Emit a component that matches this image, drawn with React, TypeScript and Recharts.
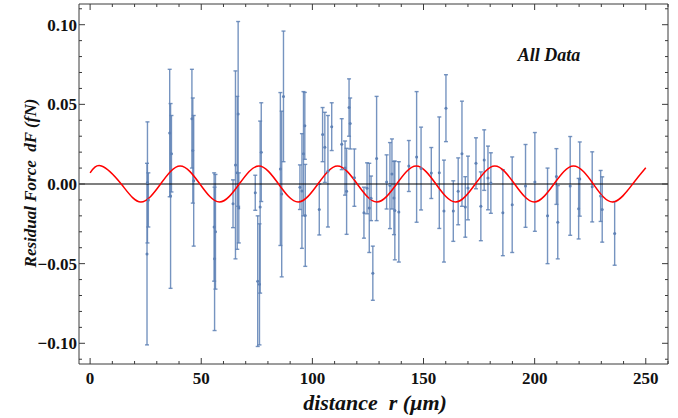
import {
  ComposedChart,
  Scatter,
  Line,
  XAxis,
  YAxis,
  ErrorBar,
  ReferenceLine,
  Customized,
} from "recharts";

// residual force measurements (distance in µm, force in fN)
const distance = [
  25.8, 25.6, 26.2, 35.8, 36.2, 36.6, 45.8, 46.2, 46.6, 55.8, 56.4, 56.0,
  64.3, 65.4, 66.6, 66.2, 66.9, 74.3, 75.4, 76.2, 77.0, 76.5, 87.0, 85.6,
  86.2, 94.4, 95.3, 96.0, 96.6, 96.8, 103.1, 104.6, 105.6, 107.0, 108.7,
  113.2, 114.7, 115.4, 116.5, 117.0, 118.9, 123.2, 124.6, 125.6, 126.4,
  127.2, 128.9, 133.4, 134.9, 135.8, 136.7, 137.1, 138.9, 143.4, 146.9,
  148.9, 153.5, 157.1, 159.2, 160.1, 163.4, 165.6, 167.3, 168.8, 170.0,
  173.6, 175.8, 177.3, 179.0, 180.3, 185.7, 189.9, 195.9, 200.1, 205.8,
  209.8, 210.4, 216.0, 220.3, 219.8, 225.9, 229.7, 230.4, 236.0,
];
const residual = [
  0.001, -0.044, -0.01, 0.032, -0.0075, 0.019, 0.041, 0.021, 0.002, -0.027,
  -0.03, -0.047, -0.0124, 0.012, 0.044, 0.007, -0.015, -0.0055, -0.061,
  -0.063, 0.02, -0.0145, 0.055, 0.0094, -0.0063, -0.002, -0.0044, 0.019,
  0.0365, -0.0197, -0.016, 0.031, 0.023, 0.008, 0.036, 0.025, 0.01, -0.0046,
  0.048, 0.038, 0.004, -0.018, -0.0027, -0.015, -0.009, -0.056, 0.016,
  0.0013, -0.001, 0.0063, -0.0088, -0.0166, -0.0175, 0.0113, 0.017, 0.0097,
  0.0069, 0.0071, -0.017, 0.0476, -0.017, -0.0046, 0.019, -0.0144, -0.0025,
  0.013, -0.014, 0.015, 0.0038, 0.0006, -0.018, -0.013, -0.0012, 0.0013,
  -0.02, 0.0047, -0.024, -0.0012, 0.0031, -0.0155, -0.0018, -0.0075, -0.016,
  -0.031,
];
const errSize = [
  0.038, 0.057, 0.017, 0.04, 0.058, 0.024, 0.031, 0.033, 0.041, 0.034, 0.036,
  0.045, 0.015, 0.059, 0.058, 0.048, 0.022, 0.011, 0.041, 0.038, 0.031,
  0.054, 0.041, 0.048, 0.052, 0.014, 0.036, 0.039, 0.021, 0.032, 0.016,
  0.017, 0.022, 0.035, 0.015, 0.016, 0.017, 0.027, 0.018, 0.016, 0.018,
  0.016, 0.016, 0.028, 0.014, 0.017, 0.039, 0.017, 0.027, 0.022, 0.023,
  0.031, 0.0315, 0.016, 0.041, 0.026, 0.016, 0.035, 0.032, 0.021, 0.019,
  0.021, 0.033, 0.019, 0.02, 0.016, 0.0216, 0.019, 0.02, 0.019, 0.027, 0.03,
  0.026, 0.031, 0.03, 0.0175, 0.023, 0.031, 0.0233, 0.019, 0.022, 0.016,
  0.0205, 0.02,
];

// red model curve, read at peaks / zero crossings / troughs
const curveR = [
  0, 5.1, 14.0, 22.8, 31.7, 40.5, 49.4, 58.2, 67.1, 75.9, 84.8, 93.6, 102.5,
  111.3, 120.2, 129.0, 137.9, 146.7, 155.6, 164.4, 173.3, 182.1, 191.0,
  199.8, 208.7, 217.5, 226.4, 235.2, 244.1, 250,
];
const curveF = [
  0.007, 0.0113, 0, -0.0113, 0, 0.0113, 0, -0.0113, 0, 0.0113, 0, -0.0113, 0,
  0.0113, 0, -0.0113, 0, 0.0113, 0, -0.0113, 0, 0.0113, 0, -0.0113, 0,
  0.0113, 0, -0.0113, 0, 0.0102,
];

const xTicks = [
  0, 10, 20, 30, 40, 50, 60, 70, 80, 90, 100, 110, 120, 130, 140, 150, 160,
  170, 180, 190, 200, 210, 220, 230, 240, 250, 260,
];
const xMajor = [0, 50, 100, 150, 200, 250];
const yTicks = [
  -0.11, -0.1, -0.09, -0.08, -0.07, -0.06, -0.05, -0.04, -0.03, -0.02, -0.01,
  0, 0.01, 0.02, 0.03, 0.04, 0.05, 0.06, 0.07, 0.08, 0.09, 0.1, 0.11,
];
const yMajor = [-0.1, -0.05, 0, 0.05, 0.1];
const yLabels = ["\u22120.10", "\u22120.05", "0.00", "0.05", "0.10"];

const points = distance.map((r, i) => ({ r, f: residual[i], err: errSize[i] }));
const curve = curveR.map((r, i) => ({ r, f: curveF[i] }));

const FONT = '"Liberation Serif", "Times New Roman", serif';
const FRAME = "#3a3a3a";
const BLUE = "#5E81B5";

const majorY = (v: number) => yMajor.findIndex((m) => Math.abs(m - v) < 1e-6);

function BottomTick({ x, y, payload }: any) {
  const major = xMajor.includes(payload.value);
  return (
    <g>
      <line x1={x} x2={x} y1={y} y2={y - (major ? 6 : 3)} stroke={FRAME} />
      {major && (
        <text x={x} y={y + 20} textAnchor="middle" fontFamily={FONT} fontWeight="bold" fontSize={17} fill="#111">
          {payload.value}
        </text>
      )}
    </g>
  );
}

function TopTick({ x, y, payload }: any) {
  const major = xMajor.includes(payload.value);
  return <line x1={x} x2={x} y1={y} y2={y + (major ? 6 : 3)} stroke={FRAME} />;
}

function LeftTick({ x, y, payload }: any) {
  const idx = majorY(payload.value);
  return (
    <g>
      <line x1={x} x2={x + (idx >= 0 ? 6 : 3)} y1={y} y2={y} stroke={FRAME} />
      {idx >= 0 && (
        <text x={x - 2} y={y + 6} textAnchor="end" fontFamily={FONT} fontWeight="bold" fontSize={17} fill="#111">
          {yLabels[idx]}
        </text>
      )}
    </g>
  );
}

function RightTick({ x, y, payload }: any) {
  const idx = majorY(payload.value);
  return <line x1={x} x2={x - (idx >= 0 ? 6 : 3)} y1={y} y2={y} stroke={FRAME} />;
}

function Titles() {
  return (
    <g fontFamily={FONT} fontWeight="bold" fontStyle="italic" fill="#111">
      <text x={375} y={410} textAnchor="middle" fontSize={22}>
        distance{"\u00a0\u00a0"}r ({"\u03bc"}m)
      </text>
      <text x={36} y={183} textAnchor="middle" fontSize={17} transform="rotate(-90 36 183)">
        Residual Force{"\u00a0\u00a0"}dF (fN)
      </text>
      <text x={549} y={61} textAnchor="middle" fontSize={18}>
        All Data
      </text>
    </g>
  );
}

export default function App() {
  return (
    <div style={{ position: "absolute", left: 0, top: 0, background: "#fff" }}>
      <ComposedChart width={678} height={418} margin={{ top: 3, right: 9, bottom: 0, left: 0 }}>
        <XAxis
          xAxisId="b"
          dataKey="r"
          type="number"
          domain={[-5, 260]}
          allowDataOverflow
          ticks={xTicks}
          interval={0}
          height={54}
          tickSize={0}
          tickMargin={0}
          axisLine={{ stroke: FRAME }}
          tickLine={false}
          tick={<BottomTick />}
        />
        <XAxis
          xAxisId="t"
          orientation="top"
          dataKey="r"
          type="number"
          domain={[-5, 260]}
          allowDataOverflow
          ticks={xTicks}
          interval={0}
          height={1}
          tickSize={0}
          tickMargin={0}
          axisLine={{ stroke: FRAME }}
          tickLine={false}
          tick={<TopTick />}
        />
        <YAxis
          yAxisId="l"
          type="number"
          domain={[-0.113, 0.113]}
          allowDataOverflow
          ticks={yTicks}
          interval={0}
          width={79}
          tickSize={0}
          tickMargin={0}
          axisLine={{ stroke: FRAME }}
          tickLine={false}
          tick={<LeftTick />}
        />
        <YAxis
          yAxisId="rt"
          orientation="right"
          type="number"
          domain={[-0.113, 0.113]}
          allowDataOverflow
          ticks={yTicks}
          interval={0}
          width={1}
          tickSize={0}
          tickMargin={0}
          axisLine={{ stroke: FRAME }}
          tickLine={false}
          tick={<RightTick />}
        />
        <Scatter
          data={points}
          dataKey="f"
          xAxisId="b"
          yAxisId="l"
          isAnimationActive={false}
          shape={(p: any) => <circle cx={p.cx} cy={p.cy} r={1.5} fill={BLUE} />}
        >
          <ErrorBar dataKey="err" direction="y" width={2} stroke={BLUE} strokeWidth={1.4} strokeOpacity={0.85} isAnimationActive={false} />
        </Scatter>
        <ReferenceLine y={0} xAxisId="b" yAxisId="l" stroke="#000" strokeWidth={1.2} />
        <Line
          data={curve}
          dataKey="f"
          xAxisId="b"
          yAxisId="l"
          type="natural"
          stroke="#FF0000"
          strokeWidth={1.5}
          dot={false}
          isAnimationActive={false}
        />
        <Customized component={Titles} />
      </ComposedChart>
    </div>
  );
}
